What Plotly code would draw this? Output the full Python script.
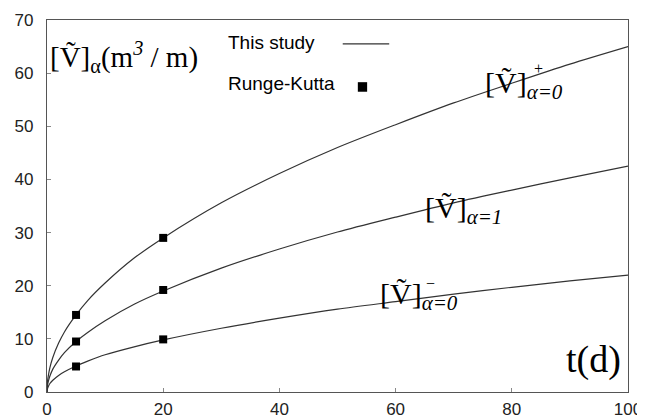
import plotly.graph_objects as go

# ---- data ----
t_curve = [0, 0.1, 0.25, 0.5, 1, 2, 3, 5, 7, 10, 15, 20, 30, 40, 50, 60, 70, 80, 90, 100]
v_plus = [0, 2.1, 3.2, 4.6, 6.5, 9.2, 11.3, 14.5, 17.2, 20.5, 25.2, 29.0, 35.6, 41.1, 46.0, 50.3, 54.4, 58.1, 61.7, 65.0]
v_one = [0, 1.35, 2.1, 3.0, 4.3, 6.0, 7.4, 9.5, 11.2, 13.4, 16.5, 19.0, 23.3, 26.9, 30.1, 32.9, 35.6, 38.0, 40.3, 42.5]
v_minus = [0, 0.7, 1.1, 1.6, 2.2, 3.1, 3.8, 4.9, 5.8, 7.0, 8.5, 9.8, 12.0, 13.9, 15.6, 17.0, 18.4, 19.7, 20.9, 22.0]

t_rk = [5, 20]
rk_plus = [14.5, 29.0]
rk_one = [9.5, 19.2]
rk_minus = [4.8, 9.9]

x_ticks = [0, 20, 40, 60, 80, 100]
y_ticks = [0, 10, 20, 30, 40, 50, 60, 70]

LINE = dict(color="#333333", width=1.2)
SERIF = "Liberation Serif, Times New Roman, serif"
SANS = "Liberation Sans, Arial, sans-serif"

fig = go.Figure()
for ys in (v_plus, v_one, v_minus):
    fig.add_trace(go.Scatter(x=t_curve, y=ys, mode="lines",
                             line=dict(shape="spline", smoothing=0.8, **LINE),
                             showlegend=False, hoverinfo="skip"))
for ys in (rk_plus, rk_one, rk_minus):
    fig.add_trace(go.Scatter(x=t_rk, y=ys, mode="markers",
                             marker=dict(symbol="square", size=8, color="black"),
                             showlegend=False))

ann = []
def A(x, y, text, size, font=SERIF, xanchor="left", yanchor="middle"):
    ann.append(dict(x=x, y=y, xref="x", yref="y", text=text, showarrow=False,
                    xanchor=xanchor, yanchor=yanchor, borderpad=0,
                    font=dict(family=font, size=size, color="black")))

A(0.3, 63.0, "[Ṽ]<sub>α</sub>(m<sup><i>3</i></sup> / m)", 29)
A(75.2, 57.7, "[Ṽ]<sub><i>α=0</i></sub>", 30)
A(83.6, 60.9, "+", 16)
A(64.9, 34.2, "[Ṽ]<sub><i>α=1</i></sub>", 30)
A(57.1, 18.1, "[Ṽ]<sub><i>α=0</i></sub>", 30)
A(65.0, 20.4, "−", 16)
A(94.0, 6.2, "t(d)", 38, xanchor="center")
A(31.0, 65.7, "This study", 19, font=SANS)
A(31.0, 58.0, "Runge-Kutta", 19, font=SANS)

shapes = [
    dict(type="line", x0=50.9, x1=58.9, y0=65.5, y1=65.5, xref="x", yref="y", line=LINE),
    dict(type="rect", x0=53.5, x1=55.1, y0=56.5, y1=58.3, xref="x", yref="y",
         fillcolor="black", line=dict(width=0)),
]

axis_common = dict(showline=True, linecolor="#555555", linewidth=1.2, mirror=True,
                   ticks="inside", ticklen=4, tickcolor="#888888", showgrid=False, zeroline=False,
                   automargin=False,
                   tickfont=dict(family=SANS, size=17, color="#222222"))

# the page body keeps the browser's default 8px margin; figure margins allow for it
fig.update_layout(
    width=645, height=419,
    margin=dict(l=39, r=25, t=12, b=35),
    paper_bgcolor="white", plot_bgcolor="white",
    xaxis=dict(range=[0, 100], tickvals=x_ticks, ticklabelstandoff=1, **axis_common),
    yaxis=dict(range=[0, 70], tickvals=y_ticks, ticklabelstandoff=9, **axis_common),
    annotations=ann, shapes=shapes,
)
fig.write_html("out.html")
